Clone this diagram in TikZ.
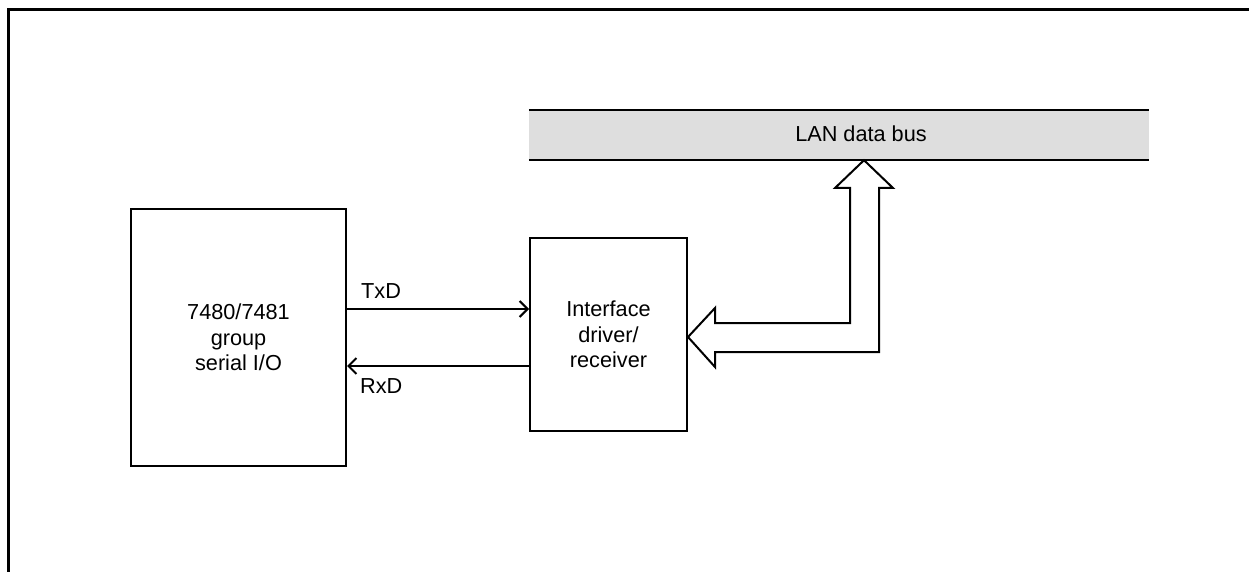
\documentclass[tikz,border=0pt]{standalone}
\usepackage{fontspec}
\setmainfont{Liberation Sans}
\usetikzlibrary{arrows.meta}
\definecolor{busfill}{RGB}{222,222,222}
\begin{document}
\begin{tikzpicture}[x=1pt,y=-1pt,line join=miter,
  txt/.style={font=\fontsize{21.7}{25.5}\selectfont},
  block/.style={txt,draw,line width=2pt,inner sep=0pt,align=center},
  sig/.style={line width=2pt,-{Straight Barb[length=8pt,width=16pt,line width=2pt]}},
  lbl/.style={txt,inner sep=0pt},
  busline/.style={line width=2pt},
  fatarrow/.style={line width=2pt,fill=white}]
\useasboundingbox (0,0) rectangle (1249,572);

% frame
\draw[line width=2.5pt] (8.5,572) -- (8.5,9.5) -- (1249,9.5);

% blocks
\node[block,minimum width=215pt,minimum height=257pt] (sio) at (238.5,337.5)
  {7480/7481\\group\\serial I/O};
\node[block,minimum width=157pt,minimum height=193pt] (drv) at (608.5,334.5)
  {Interface\\driver/\\receiver};

% LAN bus
\node[fill=busfill,minimum width=620pt,minimum height=50pt,inner sep=0pt] (bus) at (839,135) {};
\draw[busline] (bus.north west) -- (bus.north east)
               (bus.south west) -- (bus.south east);
\node[lbl,anchor=base] (buslabel) at (861,142) {LAN data bus};

% serial lines
\draw[sig] (sio.east |- 0,309) -- (drv.west |- 0,309);
\draw[sig] (drv.west |- 0,366) -- (sio.east |- 0,366);
\node[lbl,anchor=base west] (txd) at (361,298) {TxD};
\node[lbl,anchor=base west] (rxd) at (360,393) {RxD};

% bidirectional bus connection
\draw[fatarrow] (drv.east |- 0,337) -- (715,308) -- (715,323) -- (850,323)
  -- (850,188) -- (835,188) -- (bus.south -| 864,0) -- (893,188) -- (879,188)
  -- (879,352) -- (715,352) -- (715,367) -- cycle;
\end{tikzpicture}
\end{document}
